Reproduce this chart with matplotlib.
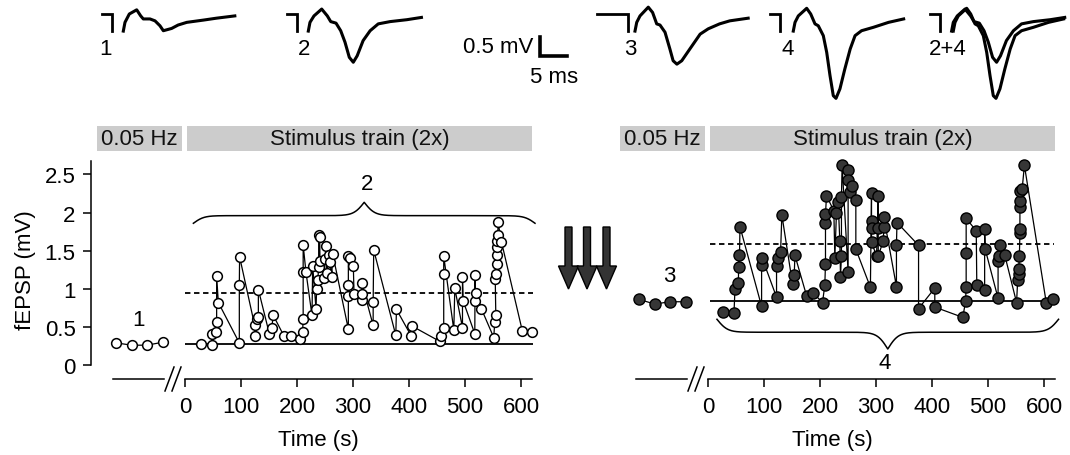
import numpy as np
import matplotlib
matplotlib.use("Agg")
import matplotlib.pyplot as plt
from matplotlib.patches import Rectangle, Polygon

plt.rcParams['font.family'] = ['Liberation Sans', 'DejaVu Sans']

# ---- données : amplitude fEPSP (mV) en fonction du temps (s) ----
pre_t = [-123, -95, -68, -39]
pre_left = [0.29, 0.26, 0.26, 0.30]
pre_right = [0.86, 0.80, 0.83, 0.83]

train_t_left = [28, 47.6, 48.8, 54.8, 56.5, 56.5, 59.5, 97, 97, 97.5,
                124.4, 124.4, 128, 131, 131, 150.6, 154.8, 157.7, 176.8, 188.7,
                205.4, 210, 211, 211, 211, 216, 226.8, 228, 234, 235,
                237, 238.7, 238.7, 240.5, 241, 248.8, 250, 252, 253, 257.7,
                259, 262, 263.7, 291.7, 291.7, 291.7, 291.7, 294.6, 300.6, 301.8,
                315.5, 315.5, 315.5, 336, 336, 337, 376.4, 377.6, 404.4, 405.6,
                455, 458, 462, 462, 462, 480, 481.8, 495.5, 495.5, 496.7,
                517.5, 518, 518.7, 520.5, 529.4, 551.4, 553, 555, 554, 556,
                557, 557, 557, 557, 558.6, 559, 565, 602.6, 620]
train_v_left = [0.28, 0.26, 0.41, 0.43, 0.57, 1.17, 0.82, 0.29, 1.05, 1.42,
                0.52, 0.38, 0.61, 0.63, 0.99, 0.41, 0.49, 0.65, 0.38, 0.38,
                0.34, 0.43, 0.61, 1.225, 1.575, 1.22, 0.65, 1.30, 0.73, 1.00,
                1.11, 1.28, 1.70, 1.68, 1.37, 1.14, 1.39, 1.56, 1.21, 1.45,
                1.35, 1.15, 1.46, 0.47, 0.91, 1.05, 1.43, 1.41, 1.30, 0.93,
                0.85, 0.93, 1.08, 0.52, 0.83, 1.51, 0.39, 0.73, 0.375, 0.51,
                0.31, 0.385, 0.49, 1.20, 1.43, 0.46, 1.005, 0.49, 1.16, 0.84,
                0.41, 1.18, 0.84, 0.945, 0.735, 0.36, 0.56, 0.66, 1.13, 1.20,
                1.33, 1.44, 1.55, 1.63, 1.70, 1.875, 1.62, 0.44, 0.43]

train_t_right = [27.3, 46.4, 48.2, 54.1, 55.3, 55.9, 57.1, 95.7, 95.7, 96.9,
                 122.4, 122.4, 125.4, 129.6, 131.9, 151, 154, 155.2, 176, 187.8,
                 204.5, 208.6, 209.8, 209.8, 209.8, 211.6, 224.7, 226.5, 229.4, 232.4,
                 235.4, 236.6, 238.3, 238.3, 239.5, 250.2, 250.2, 250.2, 253.3, 258,
                 264, 264, 290, 292, 292, 292, 292, 301, 304, 304,
                 304, 313, 314, 314, 336.5, 336.5, 337.5, 376, 376, 405,
                 405, 455, 460, 461, 461, 461, 479, 480, 494, 494,
                 495, 518, 518, 520, 521, 530, 551, 553, 555, 555,
                 556, 557, 557, 557, 557, 557, 561, 565, 604, 616]
train_v_right = [0.70, 0.68, 1.00, 1.07, 1.44, 1.28, 1.815, 0.77, 1.31, 1.40,
                 0.89, 1.30, 1.40, 1.48, 1.97, 1.06, 1.185, 1.44, 0.91, 0.945,
                 0.82, 1.05, 1.33, 1.86, 1.98, 2.22, 2.025, 1.41, 2.00, 2.14,
                 1.63, 1.16, 1.43, 2.20, 2.62, 1.22, 2.56, 2.43, 2.27, 2.35,
                 2.16, 1.52, 1.02, 2.26, 1.89, 1.80, 1.61, 1.43, 2.22, 1.80,
                 1.43, 1.63, 1.81, 1.94, 1.03, 1.58, 1.87, 1.57, 0.74, 1.01,
                 0.76, 0.625, 0.84, 1.03, 1.47, 1.925, 1.76, 1.05, 0.99, 1.79,
                 1.52, 0.875, 1.37, 1.43, 1.57, 1.44, 0.82, 1.11, 1.19, 1.26,
                 1.43, 1.73, 1.79, 2.07, 2.15, 2.29, 2.31, 2.62, 0.82, 0.86]

baseline_left, mean_left = 0.275, 0.945
baseline_right, mean_right = 0.835, 1.59

xticks = [0, 100, 200, 300, 400, 500, 600]
yticks = [0, 0.5, 1, 1.5, 2, 2.5]
ytick_labels = ['0', '0.5', '1', '1.5', '2', '2.5']

# ---- traces moyennes (ms, mV), t = 0 au saut de l'artefact ----
tr1_t = [2.15, 2.46, 3.26, 4.63, 5.37, 5.85, 7.09, 8.02, 8.94, 9.56, 11.1, 12.3, 13.9, 17.0, 19.4, 22.8]
tr1_v = [-0.45, -0.22, 0.0, 0.11, -0.05, -0.13, -0.13, -0.18, -0.31, -0.44, -0.38, -0.29, -0.22, -0.16, -0.11, -0.05]
tr2_t = [2.15, 2.46, 3.2, 4.63, 5.67, 6.3, 7.28, 8.15, 8.94, 9.74, 10.48, 11.2, 12.3, 13.6, 15.1, 17.3, 20.4, 23.1]
tr2_v = [-0.45, -0.22, -0.05, 0.13, -0.05, -0.2, -0.24, -0.44, -0.74, -1.14, -1.27, -1.10, -0.70, -0.44, -0.26, -0.2, -0.15, -0.09]
tr3_t = [1.24, 1.56, 2.17, 3.7, 4.5, 5.26, 5.87, 6.8, 7.7, 8.3, 9.0, 9.9, 11.4, 13.3, 14.8, 16.9, 18.8, 22.2]
tr3_v = [-0.45, -0.22, -0.05, 0.18, 0.04, -0.26, -0.29, -0.48, -0.92, -1.23, -1.32, -1.23, -0.92, -0.53, -0.39, -0.26, -0.18, -0.11]
tr4_t = [2.46, 2.78, 3.39, 4.94, 5.69, 6.48, 7.09, 8.02, 8.65, 9.26, 9.87, 10.37, 11.1, 12.0, 13.0, 13.9, 15.1, 17.3, 20.1, 22.9]
tr4_v = [-0.45, -0.22, -0.05, 0.15, 0.0, -0.26, -0.31, -0.57, -1.01, -1.62, -2.15, -2.22, -1.97, -1.45, -0.92, -0.57, -0.44, -0.35, -0.22, -0.13]
stim_pre = [-1.85, -1.85, -5.85, -1.85, -1.85]   # début de la ligne de base avant l'artefact
stim_step = -0.45

# ---- mise en page (pixels) ----
W, H = 1070, 456
PX_S, PX_MV = 0.56, 76.2
Y0, AX_TOP, AX_BOT = 366, 160, 380
PX_MS, PX_MV_TR = 5.4, 38

fig = plt.figure(figsize=(W / 100, H / 100), dpi=100)


def fx(px):
    return px / W


def fy(py):
    return 1 - py / H


def make_panel(xl, xr, zero):
    ax = fig.add_axes([fx(xl), fy(AX_BOT), fx(xr - xl), (AX_BOT - AX_TOP) / H])
    ax.set_xlim((xl - zero) / PX_S, (xr - zero) / PX_S)
    ax.set_ylim((Y0 - AX_BOT) / PX_MV, (Y0 - AX_TOP) / PX_MV)
    ax.patch.set_alpha(0)
    for s in ['top', 'right']:
        ax.spines[s].set_visible(False)
    ax.spines['bottom'].set_bounds(0, 620)
    ax.spines['bottom'].set_linewidth(1.1)
    ax.spines['left'].set_linewidth(1.1)
    ax.set_xticks(xticks)
    ax.tick_params(axis='both', direction='out', length=6, width=1.1, labelsize=16, pad=5)
    ax.tick_params(axis='x', pad=6)
    ax.set_xlabel('Time (s)', fontsize=16, labelpad=9)
    return ax


def axis_break(ax):
    yb = ax.get_ylim()[0]
    ax.plot([-128, -38], [yb, yb], color='black', lw=1.1, clip_on=False)
    for off in [0, 7]:
        xa = (off - 20) / PX_S
        xb = (off - 11) / PX_S
        ax.plot([xa, xb], [(Y0 - 392) / PX_MV, (Y0 - 368) / PX_MV], color='black', lw=1.1, clip_on=False)


def bars(ax):
    y_lo, y_hi = (Y0 - 152) / PX_MV, (Y0 - 127) / PX_MV
    for x0, x1, label in [(-158, -6, '0.05 Hz'), (3, 620, 'Stimulus train (2x)')]:
        ax.add_patch(Rectangle((x0, y_lo), x1 - x0, y_hi - y_lo, facecolor='#cccccc',
                               edgecolor='none', clip_on=False))
        ax.text((x0 + x1) / 2, (y_lo + y_hi) / 2, label, ha='center', va='center',
                fontsize=16, color='#111111')


def brace(ax, x0, x1, y_end, h_flat, h_tip):
    u = np.linspace(0, 1, 601)
    d = np.minimum(u, 1 - u)
    y = h_flat * (2 / (1 + np.exp(-65 * d)) - 1) + h_tip * 2 / (1 + np.exp(-65 * (d - 0.5)))
    ax.plot(x0 + u * (x1 - x0), y_end + y, color='black', lw=1.1, clip_on=False)


# ---- panneau gauche ----
axL = make_panel(91, 545, 185)
axL.spines['left'].set_bounds(0, 2.68)
axL.set_yticks(yticks)
axL.set_yticklabels(ytick_labels)
axL.set_ylabel('fEPSP (mV)', fontsize=16, labelpad=6)
axL.hlines(baseline_left, 0, 622, color='black', lw=1.3, zorder=1)
axL.hlines(mean_left, 0, 622, color='black', lw=1.3, linestyles=(0, (3, 2)), zorder=1)
open_style = dict(color='black', lw=0.9, marker='o', ms=7, mfc='white', mec='black', mew=1.1,
                  zorder=3, clip_on=False)
axL.plot(pre_t, pre_left, **open_style)
axL.plot(train_t_left, train_v_left, **open_style)
axL.text(-83, 0.60, '1', ha='center', va='center', fontsize=16)
brace(axL, 15, 625, 1.86, 0.10, 0.175)
axL.text(325, 2.38, '2', ha='center', va='center', fontsize=16)
axis_break(axL)
bars(axL)

# ---- panneau droit ----
axR = make_panel(600, 1065, 708)
axR.spines['left'].set_visible(False)
axR.set_yticks([])
axR.hlines(baseline_right, 3, 618, color='black', lw=1.3, zorder=1)
axR.hlines(mean_right, 3, 618, color='black', lw=1.3, linestyles=(0, (3, 2)), zorder=1)
filled_style = dict(color='black', lw=0.9, marker='o', ms=8, mfc='#363636', mec='black', mew=1.0,
                    zorder=3, clip_on=False)
axR.plot(pre_t, pre_right, **filled_style)
axR.plot(train_t_right, train_v_right, **filled_style)
axR.text(-70, 1.17, '3', ha='center', va='center', fontsize=16)
brace(axR, 16, 626, 0.60, -0.17, -0.22)
axR.text(315, 0.03, '4', ha='center', va='center', fontsize=16)
axis_break(axR)
bars(axR)

# ---- flèches ----
ov = fig.add_axes([0, 0, 1, 1])
ov.set_xlim(0, W)
ov.set_ylim(H, 0)
ov.axis('off')
ov.patch.set_alpha(0)
for cx in [568.5, 587, 606.5]:
    ov.add_patch(Polygon([(cx - 3.5, 228), (cx + 3.5, 228), (cx + 3.5, 267), (cx + 10, 267),
                          (cx, 290), (cx - 10, 267), (cx - 3.5, 267)],
                         closed=True, facecolor='#333333', edgecolor='black', lw=1))

# ---- traces ----
XL_TR, YL_TR = (-6.5, 24.0), (-2.6, 0.35)
BASE_PX = 15


def trace_axes(drop_px):
    w = (XL_TR[1] - XL_TR[0]) * PX_MS
    h = (YL_TR[1] - YL_TR[0]) * PX_MV_TR
    left = drop_px + XL_TR[0] * PX_MS
    top = BASE_PX - YL_TR[1] * PX_MV_TR
    ax = fig.add_axes([fx(left), fy(top + h), fx(w), h / H])
    ax.set_xlim(*XL_TR)
    ax.set_ylim(*YL_TR)
    ax.axis('off')
    ax.patch.set_alpha(0)
    return ax


trace_sets = [([(tr1_t, tr1_v)], 111.7, '1', -1.2),
              ([(tr2_t, tr2_v)], 296.7, '2', 1.3),
              ([(tr3_t, tr3_v)], 628.3, '3', 0.3),
              ([(tr4_t, tr4_v)], 780.0, '4', 1.5),
              ([(tr2_t, tr2_v), (tr4_t, tr4_v)], 940.0, '2+4', 1.4)]
for i, (curves, drop, lab, lx) in enumerate(trace_sets):
    ax = trace_axes(drop)
    ax.plot([stim_pre[i], 0, 0], [0, 0, stim_step], color='black', lw=2.0,
            solid_joinstyle='miter', clip_on=False)
    for t, v in curves:
        ax.plot(t, v, color='black', lw=2.2, solid_joinstyle='round', clip_on=False)
    ax.text(lx, -0.92, lab, ha='center', va='center', fontsize=16)

# barre d'échelle 0.5 mV / 5 ms
axS = trace_axes(540)
axS.plot([0, 0, 5], [-0.6, -1.1, -1.1], color='black', lw=2.6, solid_joinstyle='miter')
axS.text(-1.3, -0.85, '0.5 mV', ha='right', va='center', fontsize=16)
axS.text(2.6, -1.65, '5 ms', ha='center', va='center', fontsize=16)

fig.savefig('out.png', dpi=100)
